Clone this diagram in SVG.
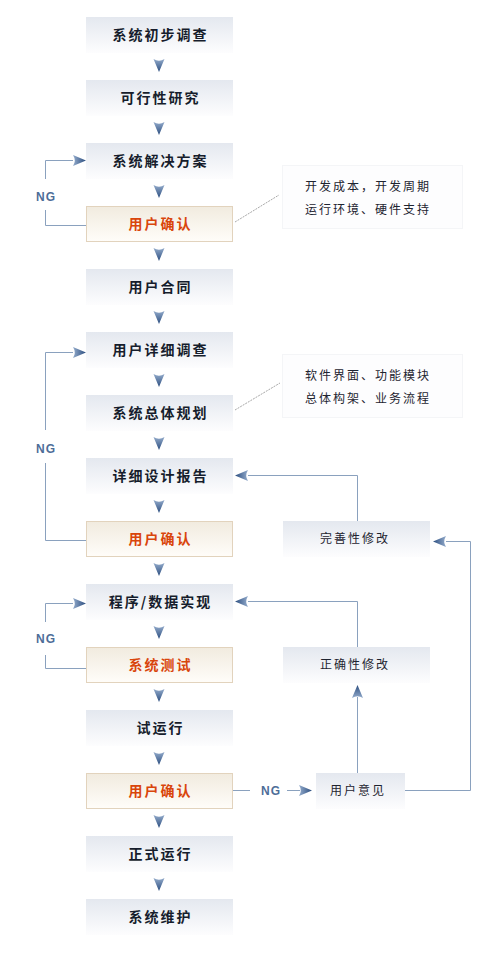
<svg xmlns="http://www.w3.org/2000/svg" xmlns:xlink="http://www.w3.org/1999/xlink" width="492" height="962" viewBox="0 0 492 962">
<defs>
<linearGradient id="gBlue" x1="0" y1="0" x2="0" y2="1">
<stop offset="0" stop-color="#e4e8ef"/>
<stop offset="1" stop-color="#fdfdfe"/>
</linearGradient>
<linearGradient id="gBeige" x1="0" y1="0" x2="0" y2="1">
<stop offset="0" stop-color="#f1ebdf"/>
<stop offset="1" stop-color="#fffdf9"/>
</linearGradient>
<linearGradient id="gArrow" x1="0" y1="0" x2="0" y2="1">
<stop offset="0" stop-color="#93abcb"/>
<stop offset="1" stop-color="#2b4d7f"/>
</linearGradient>
<path id="ah" d="M-5.5,-13 Q0,-9.5 5.5,-13 L0,0 Z" fill="url(#gArrow)"/>
<style>
.box{fill:url(#gBlue);}
.bbox{fill:url(#gBeige);stroke:#e2d3bd;stroke-width:1;}
.note{fill:#fdfdfe;stroke:#f4f5f7;stroke-width:1;}
.t{font-family:"Noto Sans CJK SC","Noto Sans",sans-serif;font-size:14px;font-weight:bold;fill:#161d2c;letter-spacing:2px;text-anchor:middle;}
.tr{font-family:"Noto Sans CJK SC","Noto Sans",sans-serif;font-size:14px;font-weight:bold;fill:#d9450b;letter-spacing:2px;text-anchor:middle;}
.tn{font-family:"Noto Sans CJK SC","Noto Sans",sans-serif;font-size:12px;fill:#1e2430;letter-spacing:2px;text-anchor:middle;}
.ng{font-family:"Liberation Sans","DejaVu Sans",sans-serif;font-size:12px;font-weight:bold;fill:#4d6d98;letter-spacing:1px;text-anchor:middle;}
.ln{fill:none;stroke:#8aa1be;stroke-width:1;}
.dl{fill:none;stroke:#a8a8a8;stroke-width:1;stroke-dasharray:2,1;}
</style>
</defs>
<rect width="492" height="962" fill="#ffffff"/>

<g id="connectors">
<path class="ln" d="M86,225.5 H45.5 V210 M45.5,179 V160.5 H73"/>
<use xlink:href="#ah" transform="translate(86,160.5) rotate(-90)"/>
<path class="ln" d="M86,540.5 H45.5 V463 M45.5,430 V352.5 H73"/>
<use xlink:href="#ah" transform="translate(86,352.5) rotate(-90)"/>
<path class="ln" d="M86,668.5 H45.5 V655 M45.5,622 V603.5 H73"/>
<use xlink:href="#ah" transform="translate(86,603.5) rotate(-90)"/>
<path class="ln" d="M357.5,521 V475.5 H248"/>
<use xlink:href="#ah" transform="translate(235,475.5) rotate(90)"/>
<path class="ln" d="M357.5,647 V601.5 H248"/>
<use xlink:href="#ah" transform="translate(235,601.5) rotate(90)"/>
<path class="ln" d="M357.5,773 V697"/>
<use xlink:href="#ah" transform="translate(357.5,685) rotate(180)"/>
<path class="ln" d="M405,790.5 H470.5 V541.5 H446"/>
<use xlink:href="#ah" transform="translate(433,541.5) rotate(90)"/>
<path class="ln" d="M233,790.5 H250 M287,790.5 H300"/>
<use xlink:href="#ah" transform="translate(312,790.5) rotate(-90)"/>
<path class="dl" d="M235,222 L279,195"/>
<path class="dl" d="M235,410 L280,383"/>
<use xlink:href="#ah" transform="translate(159,72)"/>
<use xlink:href="#ah" transform="translate(159,135)"/>
<use xlink:href="#ah" transform="translate(159,198)"/>
<use xlink:href="#ah" transform="translate(159,261)"/>
<use xlink:href="#ah" transform="translate(159,324)"/>
<use xlink:href="#ah" transform="translate(159,387)"/>
<use xlink:href="#ah" transform="translate(159,450)"/>
<use xlink:href="#ah" transform="translate(159,513)"/>
<use xlink:href="#ah" transform="translate(159,576)"/>
<use xlink:href="#ah" transform="translate(159,639)"/>
<use xlink:href="#ah" transform="translate(159,702)"/>
<use xlink:href="#ah" transform="translate(159,765)"/>
<use xlink:href="#ah" transform="translate(159,828)"/>
<use xlink:href="#ah" transform="translate(159,891)"/>
<text class="ng" x="46" y="200.5">NG</text>
<text class="ng" x="46" y="452.5">NG</text>
<text class="ng" x="46" y="643">NG</text>
<text class="ng" x="271" y="795">NG</text>
</g>

<g id="n1"><rect class="box" x="86" y="17" width="147" height="36"/><text class="t" x="160.5" y="40">系统初步调查</text></g>
<g id="n2"><rect class="box" x="86" y="80" width="147" height="36"/><text class="t" x="160.5" y="103">可行性研究</text></g>
<g id="n3"><rect class="box" x="86" y="143" width="147" height="36"/><text class="t" x="160.5" y="166">系统解决方案</text></g>
<g id="n4"><rect class="bbox" x="86.5" y="206.5" width="146" height="35"/><text class="tr" x="160.5" y="229">用户确认</text></g>
<g id="n5"><rect class="box" x="86" y="269" width="147" height="36"/><text class="t" x="160.5" y="292">用户合同</text></g>
<g id="n6"><rect class="box" x="86" y="332" width="147" height="36"/><text class="t" x="160.5" y="355">用户详细调查</text></g>
<g id="n7"><rect class="box" x="86" y="395" width="147" height="36"/><text class="t" x="160.5" y="418">系统总体规划</text></g>
<g id="n8"><rect class="box" x="86" y="458" width="147" height="36"/><text class="t" x="160.5" y="481">详细设计报告</text></g>
<g id="n9"><rect class="bbox" x="86.5" y="521.5" width="146" height="35"/><text class="tr" x="160.5" y="544">用户确认</text></g>
<g id="n10"><rect class="box" x="86" y="584" width="147" height="36"/><text class="t" x="160.5" y="607">程序/数据实现</text></g>
<g id="n11"><rect class="bbox" x="86.5" y="647.5" width="146" height="35"/><text class="tr" x="160.5" y="670">系统测试</text></g>
<g id="n12"><rect class="box" x="86" y="710" width="147" height="36"/><text class="t" x="160.5" y="733">试运行</text></g>
<g id="n13"><rect class="bbox" x="86.5" y="773.5" width="146" height="35"/><text class="tr" x="160.5" y="796">用户确认</text></g>
<g id="n14"><rect class="box" x="86" y="836" width="147" height="36"/><text class="t" x="160.5" y="859">正式运行</text></g>
<g id="n15"><rect class="box" x="86" y="899" width="147" height="36"/><text class="t" x="160.5" y="922">系统维护</text></g>

<g id="note1"><rect class="note" x="282.5" y="165.5" width="180" height="63"/><text class="tn" x="368" y="191">开发成本，开发周期</text><text class="tn" x="368" y="214">运行环境、硬件支持</text></g>
<g id="note2"><rect class="note" x="282.5" y="354.5" width="180" height="63"/><text class="tn" x="368" y="380">软件界面、功能模块</text><text class="tn" x="368" y="403">总体构架、业务流程</text></g>

<g id="r1"><rect class="box" x="283" y="521" width="147" height="36"/><text class="tn" x="355" y="543">完善性修改</text></g>
<g id="r2"><rect class="box" x="283" y="647" width="147" height="36"/><text class="tn" x="355" y="669">正确性修改</text></g>
<g id="r3"><rect class="box" x="316" y="773" width="89" height="36"/><text class="tn" x="358" y="795">用户意见</text></g>
</svg>
